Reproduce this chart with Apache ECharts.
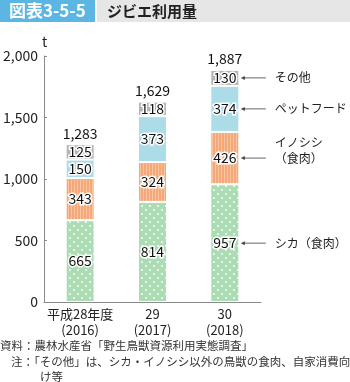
<!DOCTYPE html>
<html><head><meta charset="utf-8">
<script src="https://cdn.jsdelivr.net/npm/echarts@6/dist/echarts.min.js"></script>
<style>html,body{margin:0;padding:0;background:#fff}#c{width:350px;height:382px}</style>
</head><body><div id="c"></div>
<script>
const categories = ['平成28年度\n(2016)', '29\n(2017)', '30\n(2018)'];
const shika = [665, 814, 957];
const inoshishi = [343, 324, 426];
const petfood = [150, 373, 374];
const sonota = [125, 118, 130];
const totals = [1283, 1629, 1887];
const seriesNames = ['シカ（食肉）', 'イノシシ\n（食肉）', 'ペットフード', 'その他'];
const yTicks = [0, 500, 1000, 1500, 2000];

const FONT = '"Noto Sans CJK JP", "Noto Sans", sans-serif';

function dotPattern() {
  const c = document.createElement('canvas');
  c.width = 8; c.height = 8;
  const g = c.getContext('2d');
  g.fillStyle = '#acdcb4'; g.fillRect(0, 0, 8, 8);
  g.fillStyle = '#ffffff';
  g.beginPath(); g.arc(2, 2, 0.9, 0, Math.PI * 2); g.fill();
  g.beginPath(); g.arc(6, 6, 0.9, 0, Math.PI * 2); g.fill();
  return c;
}
function stripePattern() {
  const c = document.createElement('canvas');
  c.width = 3; c.height = 4;
  const g = c.getContext('2d');
  g.fillStyle = '#f4a878'; g.fillRect(0, 0, 3, 4);
  g.fillStyle = '#f8c5a2'; g.fillRect(2, 0, 1, 4);
  return c;
}

const chart = echarts.init(document.getElementById('c'));
const labelStyle = {
  show: true, position: 'inside', color: '#111', fontSize: 14, fontFamily: FONT,
  textBorderColor: '#fff', textBorderWidth: 3
};
function seg(name, data, color) {
  return {
    name, type: 'bar', stack: 'a', data, barWidth: 29,
    itemStyle: { color, borderColor: '#fff', borderWidth: 1 },
    label: labelStyle
  };
}
const option = {
  animation: false,
  grid: { left: 42, right: 89, top: 56, bottom: 80 },
  xAxis: {
    type: 'category', data: categories,
    axisLine: { lineStyle: { color: '#8a8a8a', width: 1 } },
    axisTick: { show: false },
    axisLabel: { interval: 0, hideOverlap: false, color: '#222', fontSize: 13, fontFamily: FONT, lineHeight: 16, margin: 4 }
  },
  yAxis: {
    type: 'value', min: 0, max: 2000, interval: 500,
    name: 't', nameLocation: 'end', nameGap: 6,
    nameTextStyle: { color: '#222', fontSize: 14, fontFamily: FONT, align: 'left', padding: [0, 0, 0, -2] },
    axisLine: { show: true, lineStyle: { color: '#8a8a8a', width: 1 } },
    axisTick: { show: true, inside: true, length: 3, lineStyle: { color: '#8a8a8a' } },
    splitLine: { show: false },
    axisLabel: {
      color: '#222', fontSize: 14, fontFamily: FONT, margin: 6,
      formatter: v => yTicks.includes(v) ? v.toLocaleString('en-US') : ''
    }
  },
  series: [
    seg(seriesNames[0], shika, { image: dotPattern(), repeat: 'repeat' }),
    seg(seriesNames[1], inoshishi, { image: stripePattern(), repeat: 'repeat' }),
    seg(seriesNames[2], petfood, '#abdce8'),
    seg(seriesNames[3], sonota, '#b4b4b4'),
    {
      name: 'total', type: 'bar', stack: 'a', data: totals.map(() => 0), barWidth: 29,
      label: {
        show: true, position: 'top', color: '#111', fontSize: 14, fontFamily: FONT, distance: 4,
        formatter: p => totals[p.dataIndex].toLocaleString('en-US')
      }
    }
  ]
};
chart.setOption(option);

// annotations for the last bar
const last = categories.length - 1;
const stacks = [shika, inoshishi, petfood, sonota];
const graphics = [];
let base = 0;
stacks.forEach((arr, i) => {
  const mid = base + arr[last] / 2;
  base += arr[last];
  const pt = chart.convertToPixel({ xAxisIndex: 0, yAxisIndex: 0 }, [last, mid]);
  const x0 = pt[0] + 16, x1 = pt[0] + 41;
  graphics.push({
    type: 'line', shape: { x1: x0 + 2, y1: pt[1], x2: x1, y2: pt[1] },
    style: { stroke: '#666', lineWidth: 1 }
  });
  graphics.push({
    type: 'polygon', shape: { points: [[x0, pt[1]], [x0 + 4, pt[1] - 2], [x0 + 4, pt[1] + 2]] },
    style: { fill: '#444' }
  });
  const multi = seriesNames[i].includes('\n');
  graphics.push({
    type: 'text', x: x1 + 9, y: multi ? pt[1] - 8 : pt[1],
    style: {
      text: seriesNames[i], fill: '#222', fontSize: 12, fontFamily: FONT,
      verticalAlign: 'middle', lineHeight: 16
    }
  });
});

// title bar and notes
graphics.push(
  { type: 'rect', shape: { x: 0, y: 0, width: 95, height: 22 }, style: { fill: '#5cb6e4' } },
  { type: 'rect', shape: { x: 97, y: 0, width: 253, height: 22 }, style: { fill: '#e6e6e6' } },
  { type: 'text', x: 9, y: 11, style: { text: '図表3-5-5', fill: '#fff', fontSize: 17, fontWeight: 'bold', fontFamily: FONT, verticalAlign: 'middle' } },
  { type: 'text', x: 107, y: 11, style: { text: 'ジビエ利用量', fill: '#222', fontSize: 15, fontWeight: 'bold', fontFamily: FONT, verticalAlign: 'middle' } },
  { type: 'text', x: 0, y: 346, style: { text: '資料：農林水産省「野生鳥獣資源利用実態調査」', fill: '#333', fontSize: 11.5, fontFamily: FONT, verticalAlign: 'middle' } },
  { type: 'text', x: 11, y: 362, style: { text: '注：「その他」は、シカ・イノシシ以外の鳥獣の食肉、自家消費向', fill: '#333', fontSize: 11.5, fontFamily: FONT, verticalAlign: 'middle' } },
  { type: 'text', x: 40, y: 377, style: { text: 'け等', fill: '#333', fontSize: 11.5, fontFamily: FONT, verticalAlign: 'middle' } }
);
chart.setOption({ graphic: graphics });
</script></body></html>
